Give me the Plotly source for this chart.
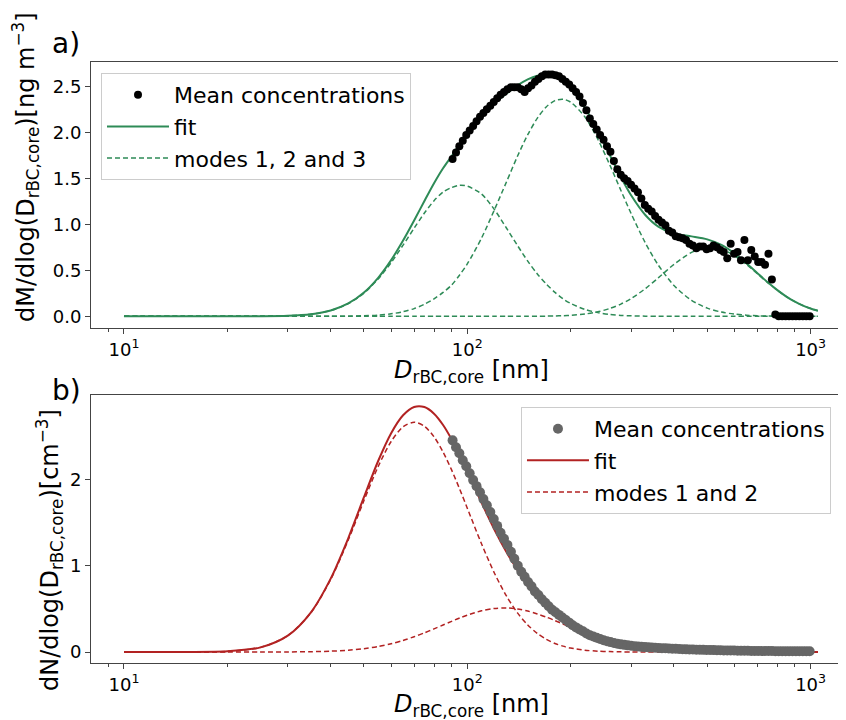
import plotly.graph_objects as go

# ---------------- data ----------------
diam_nm = [
    90.6, 92.7, 94.8, 97.0, 99.3, 101.6, 104.0, 106.4, 108.9, 111.4,
    114.0, 116.7, 119.4, 122.2, 125.0, 127.9, 130.9, 134.0, 137.1, 140.3,
    143.6, 146.9, 150.3, 153.8, 157.4, 161.1, 164.9, 168.7, 172.6, 176.6,
    180.7, 184.9, 189.2, 193.6, 198.1, 202.7, 207.4, 212.3, 217.2, 222.3,
    227.5, 232.8, 238.2, 243.7, 249.4, 255.2, 261.2, 267.3, 273.5, 279.9,
    286.4, 293.1, 299.9, 306.9, 314.1, 321.4, 328.9, 336.5, 344.4, 352.4,
    360.6, 369.0, 377.6, 386.4, 395.4, 404.6, 414.0, 423.7, 433.6, 443.7,
    454.0, 464.6, 475.4, 486.5, 497.8, 509.4, 521.3, 533.5, 545.9, 558.6,
    571.7, 585.0, 598.6, 612.6, 626.9, 641.5, 656.4, 671.7, 687.4, 703.4,
    719.8, 736.6, 753.8, 771.3, 789.3, 807.7, 826.5, 845.8, 865.5, 885.7,
    906.3, 927.5, 949.1, 971.2, 993.9,
]

mass_conc = [
    1.71, 1.78, 1.85, 1.91, 1.97, 2.02, 2.07, 2.12, 2.17, 2.21,
    2.25, 2.29, 2.33, 2.37, 2.41, 2.44, 2.47, 2.49, 2.49, 2.49,
    2.47, 2.44, 2.48, 2.51, 2.55, 2.58, 2.61, 2.63, 2.63, 2.63,
    2.62, 2.61, 2.58, 2.55, 2.52, 2.48, 2.44, 2.39, 2.32, 2.24,
    2.15, 2.09, 2.03, 1.97, 1.92, 1.85, 1.79, 1.69, 1.60, 1.54,
    1.50, 1.47, 1.43, 1.39, 1.35, 1.28, 1.21, 1.17, 1.14, 1.09,
    1.05, 1.02, 0.99, 0.93, 0.91, 0.87, 0.86, 0.85, 0.83, 0.79,
    0.77, 0.74, 0.76, 0.76, 0.73, 0.74, 0.77, 0.75, 0.72, 0.70,
    0.63, 0.79, 0.68, 0.70, 0.61, 0.83, 0.61, 0.72, 0.65, 0.59,
    0.59, 0.56, 0.68, 0.40, 0.02, 0.0, 0.0, 0.0, 0.0, 0.0,
    0.0, 0.0, 0.0, 0.0, 0.0,
]

number_conc = [
    2.45, 2.37, 2.30, 2.22, 2.15, 2.07, 1.99, 1.92, 1.85, 1.77,
    1.70, 1.62, 1.54, 1.46, 1.38, 1.31, 1.24, 1.16, 1.08, 1.00,
    0.93, 0.87, 0.81, 0.76, 0.70, 0.66, 0.61, 0.57, 0.53, 0.49,
    0.46, 0.43, 0.40, 0.37, 0.34, 0.31, 0.285, 0.26, 0.24, 0.215,
    0.195, 0.18, 0.165, 0.15, 0.137, 0.125, 0.115, 0.105, 0.096, 0.089,
    0.083, 0.077, 0.072, 0.068, 0.064, 0.060, 0.057, 0.054, 0.052, 0.049,
    0.047, 0.045, 0.043, 0.041, 0.039, 0.037, 0.035, 0.033, 0.031, 0.030,
    0.029, 0.027, 0.026, 0.025, 0.024, 0.023, 0.022, 0.021, 0.020, 0.019,
    0.018, 0.018, 0.017, 0.016, 0.016, 0.015, 0.014, 0.013, 0.013, 0.012,
    0.012, 0.011, 0.011, 0.011, 0.010, 0.010, 0.010, 0.010, 0.009, 0.009,
    0.009, 0.009, 0.008, 0.008, 0.008,
]

# diameters at which the fitted mode curves were read
grid_nm = [10, 15, 20, 25, 30, 35, 40, 45, 50, 55,
           60, 65, 70, 75, 80, 85, 90, 95, 100, 110,
           120, 130, 140, 150, 160, 170, 180, 190, 200, 220,
           240, 260, 280, 300, 330, 360, 400, 450, 500, 550,
           600, 650, 700, 750, 800, 850, 900, 950, 1000, 1050]

mass_mode1 = [0, 0, 0.0001, 0.0009, 0.006, 0.023, 0.063, 0.138, 0.253, 0.406,
              0.584, 0.774, 0.958, 1.123, 1.257, 1.350, 1.400, 1.425, 1.415, 1.330,
              1.160, 0.960, 0.770, 0.600, 0.460, 0.350, 0.260, 0.190, 0.140, 0.075,
              0.040, 0.020, 0.010, 0.005, 0.002, 0.001, 0, 0, 0, 0,
              0, 0, 0, 0, 0, 0, 0, 0, 0, 0]
mass_mode2 = [0, 0, 0, 0, 0, 0, 0.001, 0.002, 0.006, 0.013,
              0.027, 0.050, 0.084, 0.131, 0.190, 0.260, 0.340, 0.450, 0.570, 0.850,
              1.160, 1.460, 1.740, 1.975, 2.155, 2.279, 2.345, 2.360, 2.329, 2.169,
              1.925, 1.647, 1.371, 1.118, 0.799, 0.557, 0.335, 0.174, 0.089, 0.046,
              0.024, 0.012, 0.006, 0.003, 0.002, 0.001, 0, 0, 0, 0]
mass_mode3 = [0, 0, 0, 0, 0, 0, 0, 0, 0, 0,
              0, 0, 0, 0, 0, 0, 0, 0, 0, 0,
              0, 0, 0, 0.0006, 0.0012, 0.0023, 0.004, 0.007, 0.011, 0.025,
              0.049, 0.085, 0.133, 0.193, 0.301, 0.418, 0.565, 0.695, 0.748, 0.730,
              0.660, 0.565, 0.463, 0.367, 0.283, 0.214, 0.159, 0.117, 0.085, 0.061]

num_mode1 = [0, 0.0004, 0.008, 0.054, 0.189, 0.453, 0.840, 1.296, 1.753, 2.147,
             2.437, 2.607, 2.660, 2.614, 2.491, 2.315, 2.108, 1.887, 1.665, 1.253,
             0.912, 0.649, 0.453, 0.313, 0.215, 0.146, 0.099, 0.068, 0.046, 0.021,
             0.010, 0.005, 0.002, 0.001, 0, 0, 0, 0, 0, 0,
             0, 0, 0, 0, 0, 0, 0, 0, 0, 0]
num_mode2 = [0, 0, 0, 0.0002, 0.001, 0.004, 0.010, 0.021, 0.039, 0.064,
             0.096, 0.134, 0.177, 0.222, 0.268, 0.313, 0.355, 0.394, 0.427, 0.477,
             0.504, 0.510, 0.498, 0.474, 0.441, 0.404, 0.364, 0.324, 0.286, 0.217,
             0.161, 0.118, 0.086, 0.062, 0.038, 0.023, 0.012, 0.005, 0.002, 0.001,
             0, 0, 0, 0, 0, 0, 0, 0, 0, 0]

mass_fit = [a + b + c for a, b, c in zip(mass_mode1, mass_mode2, mass_mode3)]
num_fit = [a + b for a, b in zip(num_mode1, num_mode2)]

x_tick_vals = [10, 100, 1000]
x_tick_text = ["10<sup>1</sup>", "10<sup>2</sup>", "10<sup>3</sup>"]
x_minor_vals = [8, 9, 20, 30, 40, 50, 60, 70, 80, 90,
                200, 300, 400, 500, 600, 700, 800, 900]
mass_ticks = [0.0, 0.5, 1.0, 1.5, 2.0, 2.5]
mass_tick_text = ["0.0", "0.5", "1.0", "1.5", "2.0", "2.5"]
num_ticks = [0, 1, 2]

# ---------------- style ----------------
GREEN = "#2e8b57"
RED = "#b22222"
GREY = "#666666"
AX = "#444444"
FONT = "DejaVu Sans"

fig = go.Figure()

# ---- panel a ----
for i, mode in enumerate([mass_mode1, mass_mode2, mass_mode3]):
    fig.add_trace(go.Scatter(
        x=grid_nm, y=mode, mode="lines",
        line=dict(color=GREEN, width=1.5, dash="5px,3px", shape="spline", smoothing=0.8),
        name="modes 1, 2 and 3", showlegend=(i == 0), legendrank=3,
        xaxis="x", yaxis="y", legend="legend", hoverinfo="skip"))
fig.add_trace(go.Scatter(
    x=grid_nm, y=mass_fit, mode="lines",
    line=dict(color=GREEN, width=2, shape="spline", smoothing=0.8),
    name="fit", legendrank=2, xaxis="x", yaxis="y", legend="legend", hoverinfo="skip"))
fig.add_trace(go.Scatter(
    x=diam_nm, y=mass_conc, mode="markers",
    marker=dict(color="black", size=8),
    name="Mean concentrations", legendrank=1, xaxis="x", yaxis="y", legend="legend"))

# ---- panel b ----
for i, mode in enumerate([num_mode1, num_mode2]):
    fig.add_trace(go.Scatter(
        x=grid_nm, y=mode, mode="lines",
        line=dict(color=RED, width=1.5, dash="5px,3px", shape="spline", smoothing=0.8),
        name="modes 1 and 2", showlegend=(i == 0), legendrank=3,
        xaxis="x2", yaxis="y2", legend="legend2", hoverinfo="skip"))
fig.add_trace(go.Scatter(
    x=grid_nm, y=num_fit, mode="lines",
    line=dict(color=RED, width=2, shape="spline", smoothing=0.8),
    name="fit", legendrank=2, xaxis="x2", yaxis="y2", legend="legend2", hoverinfo="skip"))
fig.add_trace(go.Scatter(
    x=diam_nm, y=number_conc, mode="markers",
    marker=dict(color=GREY, size=10),
    name="Mean concentrations", legendrank=1, xaxis="x2", yaxis="y2", legend="legend2"))

xaxis_common = dict(
    type="log", range=[0.9039, 3.1031],
    tickmode="array", tickvals=x_tick_vals, ticktext=x_tick_text,
    ticks="outside", ticklen=5, tickwidth=1, tickcolor=AX,
    showline=True, linecolor=AX, linewidth=1, mirror=True,
    showgrid=False, zeroline=False,
    tickfont=dict(size=18, family=FONT, color="black"),
    minor=dict(tickmode="array", tickvals=x_minor_vals, ticks="outside",
               ticklen=3, tickwidth=1, tickcolor=AX, showgrid=False),
)
yaxis_common = dict(
    ticks="outside", ticklen=5, tickwidth=1, tickcolor=AX,
    showline=True, linecolor=AX, linewidth=1,
    showgrid=False, zeroline=False,
    tickfont=dict(size=18, family=FONT, color="black"),
)

legend_common = dict(
    xanchor="left", yanchor="top",
    bgcolor="rgba(255,255,255,0.85)", bordercolor="#cccccc", borderwidth=1,
    font=dict(size=22, family=FONT, color="black"),
    itemwidth=62, traceorder="normal", tracegroupgap=0,
)

# the page body adds an 8 px offset, so the figure is 8 px smaller on each side
fig.update_layout(
    width=838, height=712,
    margin=dict(l=83, r=0, t=54, b=57),
    paper_bgcolor="white", plot_bgcolor="white",
    font=dict(family=FONT, color="black"),
    xaxis=dict(domain=[0, 1], anchor="y", **xaxis_common),
    yaxis=dict(domain=[0.5574, 1.0], anchor="x", range=[-0.127, 2.765],
               tickmode="array", tickvals=mass_ticks, ticktext=mass_tick_text,
               **yaxis_common),
    xaxis2=dict(domain=[0, 1], anchor="y2", **xaxis_common),
    yaxis2=dict(domain=[0.0, 0.4459], anchor="x2", range=[-0.127, 2.975],
                tickmode="array", tickvals=num_ticks, ticktext=[str(v) for v in num_ticks],
                **yaxis_common),
    legend=dict(x=0.01325, y=0.9817, **legend_common),
    legend2=dict(x=0.5695, y=0.426, **legend_common),
    showlegend=True,
    hovermode=False,
)

ann_font = dict(family=FONT, color="black", size=24)
fig.add_annotation(text="a)", xref="paper", yref="paper", x=-0.0543, y=1.030,
                   xanchor="left", yanchor="middle", showarrow=False,
                   font=dict(family=FONT, color="black", size=28))
fig.add_annotation(text="b)", xref="paper", yref="paper", x=-0.0543, y=0.4526,
                   xanchor="left", yanchor="middle", showarrow=False,
                   font=dict(family=FONT, color="black", size=28))
fig.add_annotation(text="<i>D</i><sub>rBC,core</sub> [nm]", xref="paper", yref="paper",
                   x=0.5046, y=0.4842, xanchor="center", yanchor="middle",
                   showarrow=False, font=ann_font)
fig.add_annotation(text="<i>D</i><sub>rBC,core</sub> [nm]", xref="paper", yref="paper",
                   x=0.5046, y=-0.0715, xanchor="center", yanchor="middle",
                   showarrow=False, font=ann_font)
fig.add_annotation(text="dM/dlog(D<sub>rBC,core</sub>)[ng m<sup>\u22123</sup>]",
                   xref="paper", yref="paper", x=-0.0861, y=0.8253,
                   xanchor="center", yanchor="middle", textangle=-90,
                   showarrow=False, font=ann_font)
fig.add_annotation(text="dN/dlog(D<sub>rBC,core</sub>)[cm<sup>\u22123</sup>]",
                   xref="paper", yref="paper", x=-0.0556, y=0.188,
                   xanchor="center", yanchor="middle", textangle=-90,
                   showarrow=False, font=ann_font)

fig.write_html("out.html", config={"displayModeBar": False})
